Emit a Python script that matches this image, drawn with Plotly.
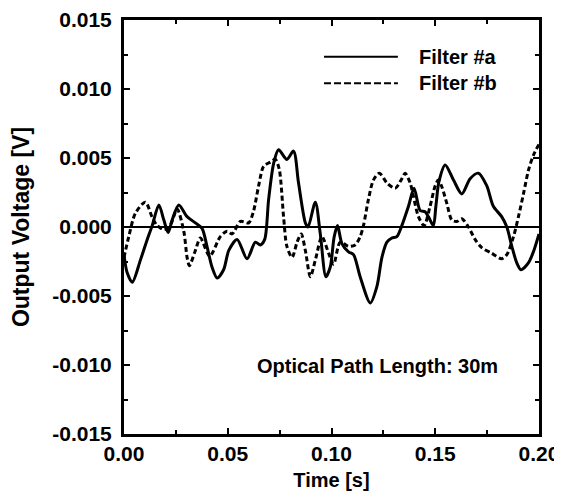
import plotly.graph_objects as go

# ---- data ----
time_a = [0, 0.0015, 0.004, 0.0079, 0.0112, 0.0136, 0.0168, 0.0192, 0.0213, 0.0232, 0.0264,
          0.0304, 0.0344, 0.0376, 0.040, 0.0424, 0.0449, 0.048, 0.0505, 0.0545, 0.0593,
          0.0633, 0.0657, 0.0678, 0.0697, 0.0721, 0.0745, 0.0785, 0.0817, 0.0841, 0.0874,
          0.0887, 0.0922, 0.0946, 0.0973, 0.0994, 0.1013, 0.1029, 0.105, 0.1082, 0.1106,
          0.1138, 0.1187, 0.1219, 0.1243, 0.1267, 0.1291, 0.1315, 0.1339, 0.1371, 0.1398,
          0.1427, 0.1451, 0.1467, 0.1491, 0.1503, 0.1518, 0.1548, 0.1588, 0.1628, 0.1668,
          0.1708, 0.1748, 0.178, 0.182, 0.1845, 0.1869, 0.1893, 0.1913, 0.1949, 0.1973, 0.2]
volt_a = [-0.0020, -0.0033, -0.0040, -0.0024, -0.0009, 0.0001, 0.0016, 0.0005, -0.0004, 0.0005,
          0.0016, 0.00075, 0.0003, -0.0001, -0.0014, -0.0029, -0.0037, -0.0031, -0.0017,
          -0.0009, -0.0023, -0.0011, -0.0013, -0.0009, 0.0020, 0.0046, 0.0056, 0.0049, 0.0055,
          0.0032, 0.0003, 0.0000, 0.0018, -0.0005, -0.0036, -0.0029, -0.0007, 0.0001, -0.0012,
          -0.0018, -0.0020, -0.0036, -0.0055, -0.0043, -0.0022, -0.0011, -0.0008, -0.0007,
          0.0001, 0.0015, 0.0028, 0.0012, 0.0011, 0.00075, 0.0001, 0.0015, 0.0033, 0.0045,
          0.0034, 0.0024, 0.0035, 0.0039, 0.0030, 0.0015, 0.00075, 0.0000, -0.0014, -0.0026,
          -0.0031, -0.0026, -0.0018, -0.0005]

time_b = [0, 0.0023, 0.0055, 0.0103, 0.0136, 0.016, 0.0195, 0.0225, 0.0256, 0.0288, 0.0304,
          0.0315, 0.0344, 0.0368, 0.0413, 0.0464, 0.0497, 0.0521, 0.0561, 0.0601, 0.0625,
          0.0649, 0.0673, 0.0705, 0.0729, 0.0748, 0.0769, 0.0785, 0.081, 0.0834, 0.0854,
          0.0874, 0.0898, 0.0922, 0.0954, 0.0986, 0.101, 0.1042, 0.1082, 0.1114, 0.1138,
          0.1154, 0.1178, 0.1202, 0.1231, 0.1267, 0.1307, 0.1339, 0.1355, 0.1379, 0.1395,
          0.1419, 0.1446, 0.1475, 0.15, 0.1515, 0.1532, 0.1556, 0.158, 0.1604, 0.1628, 0.166,
          0.1692, 0.1724, 0.1772, 0.182, 0.1845, 0.1877, 0.1901, 0.1925, 0.1949, 0.1973, 0.2]
volt_b = [-0.0022, -0.0007, 0.0010, 0.0018, 0.0007, 0.0001, -0.0002, 0.0002, 0.0013, -0.0003,
          -0.0022, -0.0028, -0.0017, -0.0008, -0.0021, -0.0007, -0.0003, -0.0005, 0.0004,
          0.0003, 0.0012, 0.0030, 0.0044, 0.0047, 0.0049, 0.0042, 0.00075, -0.0014, -0.0022,
          -0.0011, -0.0005, -0.0017, -0.0036, -0.0024, -0.0007, -0.0019, -0.0027, -0.0011,
          -0.0014, -0.0013, -0.0007, 0.0001, 0.0020, 0.0034, 0.0039, 0.0032, 0.0028, 0.0035,
          0.0039, 0.0032, 0.0022, 0.00075, 0.0001, 0.0015, 0.0030, 0.0034, 0.0029, 0.0017,
          0.0005, 0.0004, 0.0006, 0.0000, -0.0009, -0.0015, -0.0019, -0.0023, -0.0020,
          -0.0007, 0.00075, 0.0024, 0.0041, 0.0052, 0.0060]

series_names = ["Filter #a", "Filter #b"]
x_tick_vals = [0.00, 0.05, 0.10, 0.15, 0.20]
x_tick_labels = ["0.00", "0.05", "0.10", "0.15", "0.20"]
y_tick_vals = [-0.015, -0.010, -0.005, 0.000, 0.005, 0.010, 0.015]
y_tick_labels = ["-0.015", "-0.010", "-0.005", "0.000", "0.005", "0.010", "0.015"]
x_title = "Time [s]"
y_title = "Output Voltage [V]"
note_text = "Optical Path Length: 30m"

FONT = "Liberation Sans, Arial, sans-serif"

fig = go.Figure()
fig.add_trace(go.Scatter(x=time_a, y=volt_a, mode="lines", name=series_names[0],
                         line=dict(color="black", width=3, shape="spline", smoothing=0.8),
                         showlegend=False))
fig.add_trace(go.Scatter(x=time_b, y=volt_b, mode="lines", name=series_names[1],
                         line=dict(color="black", width=3, dash="5px,3px", shape="spline",
                                   smoothing=0.8),
                         showlegend=False))

# legend drawn as sample lines + labels
fig.add_shape(type="line", xref="paper", yref="paper", x0=0.482, x1=0.660, y0=0.911, y1=0.911,
              line=dict(color="black", width=2))
fig.add_shape(type="line", xref="paper", yref="paper", x0=0.482, x1=0.660, y0=0.847, y1=0.847,
              line=dict(color="black", width=2, dash="7px,3px"))
fig.add_annotation(xref="paper", yref="paper", x=0.706, y=0.911, text=series_names[0],
                   showarrow=False, xanchor="left", yanchor="middle",
                   font=dict(family=FONT, size=20, color="black", weight="bold"))
fig.add_annotation(xref="paper", yref="paper", x=0.706, y=0.847, text=series_names[1],
                   showarrow=False, xanchor="left", yanchor="middle",
                   font=dict(family=FONT, size=20, color="black", weight="bold"))
fig.add_annotation(xref="paper", yref="paper", x=0.612, y=0.164, text=note_text,
                   showarrow=False, xanchor="center", yanchor="middle",
                   font=dict(family=FONT, size=20, color="black", weight="bold"))

axis_common = dict(showline=True, linecolor="black", linewidth=3, mirror="allticks",
                   ticks="inside", ticklen=6, tickwidth=2, tickcolor="black",
                   showgrid=False, automargin=False,
                   tickfont=dict(family=FONT, size=21, color="black", weight="bold"))

fig.update_xaxes(range=[0, 0.2], tickvals=x_tick_vals, ticktext=x_tick_labels,
                 minor=dict(ticks="inside", dtick=0.025, ticklen=4, tickwidth=2,
                            tickcolor="black", showgrid=False),
                 zeroline=False, ticklabeloverflow="allow",
                 title=dict(text=x_title, standoff=9,
                            font=dict(family=FONT, size=20, color="black", weight="bold")),
                 ticklabelstandoff=-1,
                 **axis_common)
fig.update_yaxes(range=[-0.015, 0.015], tickvals=y_tick_vals, ticktext=y_tick_labels,
                 minor=dict(ticks="inside", dtick=0.0025, tick0=0, ticklen=4, tickwidth=2,
                            tickcolor="black", showgrid=False),
                 zeroline=True, zerolinecolor="black", zerolinewidth=2,
                 title=dict(text=y_title, standoff=21,
                            font=dict(family=FONT, size=23, color="black", weight="bold")),
                 ticklabelstandoff=5,
                 **axis_common)

# the page adds an 8px body margin, so the figure is sized to fit the 562x499 window
fig.update_layout(width=554, height=491, margin=dict(l=116, r=23, t=12, b=65),
                  plot_bgcolor="white", paper_bgcolor="white",
                  font=dict(family=FONT, color="black"))

fig.write_html("out.html")
